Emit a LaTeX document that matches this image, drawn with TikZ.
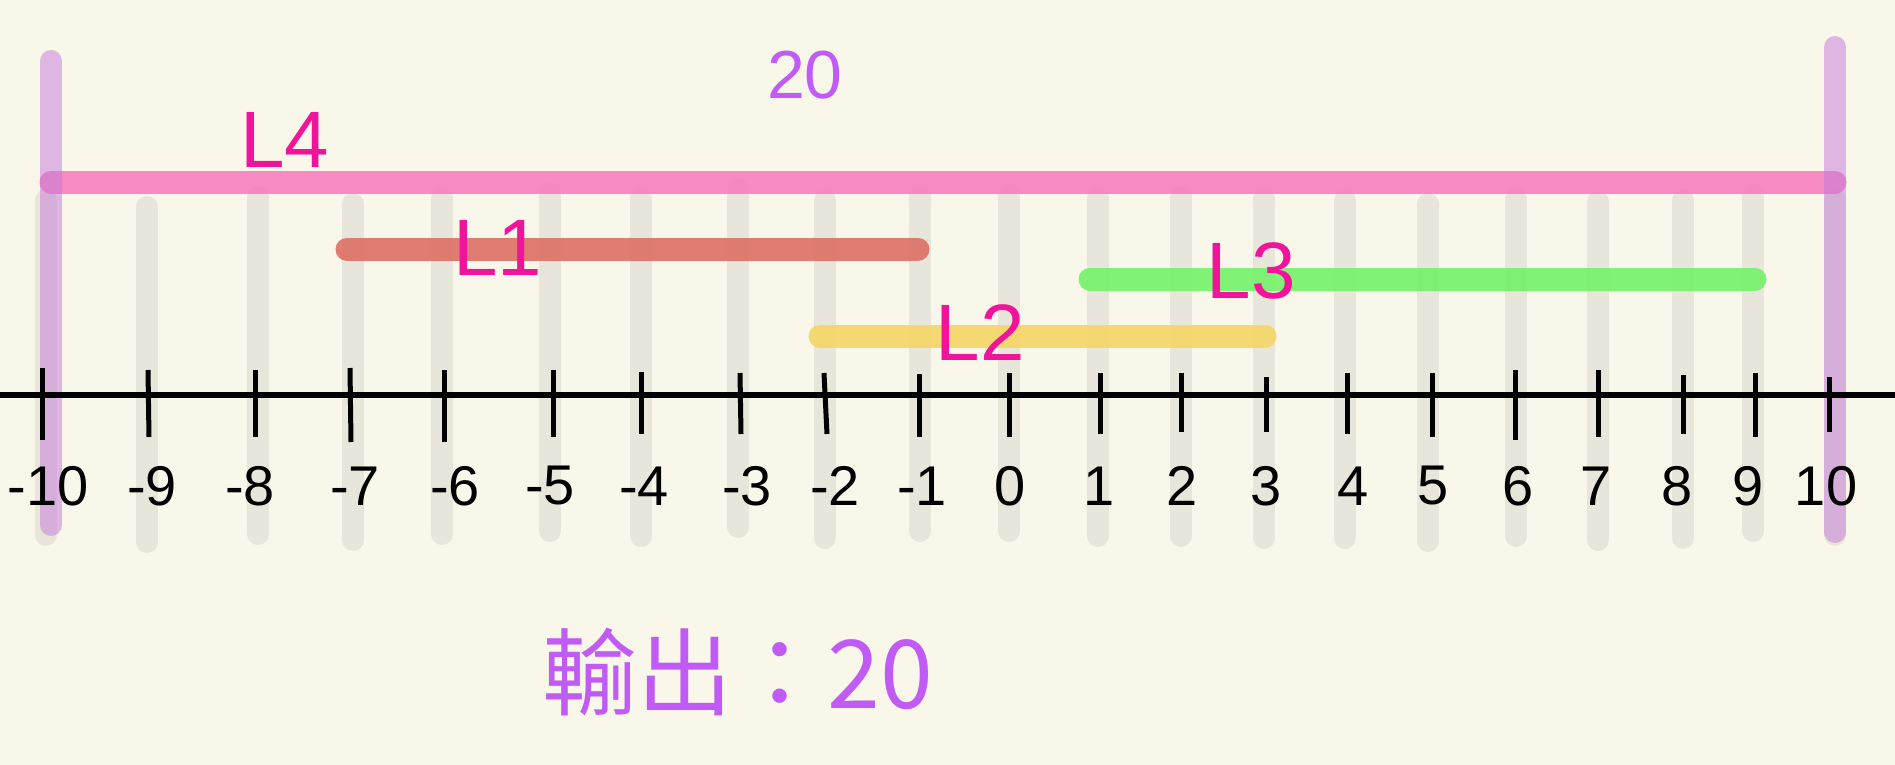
\documentclass[tikz,border=0pt]{standalone}
\usepackage{fontspec}
\setmainfont{Liberation Sans}
\newfontfamily\cjk{Noto Sans CJK TC}
\usepackage{tikz}
\definecolor{paper}{RGB}{249,246,234}
\definecolor{guidegray}{RGB}{232,230,218}
\definecolor{lfour}{RGB}{246,130,192}
\definecolor{lone}{RGB}{222,114,104}
\definecolor{ltwo}{RGB}{246,214,104}
\definecolor{lthree}{RGB}{118,242,108}
\definecolor{edgepurple}{RGB}{196,120,218}
\definecolor{penpink}{RGB}{240,20,155}
\definecolor{penpurple}{RGB}{192,92,245}
\tikzset{every picture/.style={line width=0.75pt}}
\tikzset{
  guide/.style={draw=guidegray, line width=22pt, line cap=round},
  seg/.style={line width=23pt, line cap=round, opacity=0.92},
  limit/.style={draw=edgepurple, line width=22pt, line cap=round, opacity=0.5},
  tickmark/.style={line width=5pt},
  num/.style={font=\fontsize{56}{64}\selectfont},
  segname/.style={text=penpink, font=\fontsize{80}{90}\selectfont},
  result/.style={text=penpurple}
}

\begin{document}
\begin{tikzpicture}[x=1pt,y=1pt,yscale=-1,xscale=1]
	%Shape: Background
	\fill[paper] (0,0) rectangle (1895,765);
	\useasboundingbox (0,0) rectangle (1895,765);
	
	%Straight Lines: guides
	\draw[guide] (46,200) -- (46,535);
	\draw[guide] (147,207) -- (147,542);
	\draw[guide] (258,196) -- (258,534);
	\draw[guide] (353,204) -- (353,540);
	\draw[guide] (442,198) -- (442,534);
	\draw[guide] (550,193) -- (550,531);
	\draw[guide] (641,198) -- (641,536);
	\draw[guide] (738,189) -- (738,527);
	\draw[guide] (825,200) -- (825,538);
	\draw[guide] (920,195) -- (920,531);
	\draw[guide] (1009,195) -- (1009,531);
	\draw[guide] (1098,198) -- (1098,536);
	\draw[guide] (1181,196) -- (1181,536);
	\draw[guide] (1264,198) -- (1264,538);
	\draw[guide] (1345,200) -- (1345,538);
	\draw[guide] (1428,204) -- (1428,541);
	\draw[guide] (1516,198) -- (1516,536);
	\draw[guide] (1598,202) -- (1598,540);
	\draw[guide] (1683,200) -- (1683,538);
	\draw[guide] (1753,195) -- (1753,531);
	\draw[guide] (1835,200) -- (1835,535);
	
	%Straight Lines: segments
	\draw[seg, draw=lfour] (51,182) -- (1835,182);
	\draw[seg, draw=lone] (347,249) -- (918,249);
	\draw[seg, draw=lthree] (1090,279) -- (1755,279);
	\draw[seg, draw=ltwo] (820,336) -- (1265,336);
	
	%Straight Lines: limits
	\draw[limit] (51,61) -- (51,525);
	\draw[limit] (1835,47) -- (1835,532);
	
	%Straight Lines: axis
	\draw[line width=6pt] (0,395) -- (1895,395);
	\draw[tickmark] (42,368) -- (42,440);
	\draw[tickmark] (148,370) -- (149,437);
	\draw[tickmark] (255,370) -- (255,437);
	\draw[tickmark] (350,368) -- (351,442);
	\draw[tickmark] (444,370) -- (444,442);
	\draw[tickmark] (553,370) -- (553,437);
	\draw[tickmark] (641,372) -- (641,434);
	\draw[tickmark] (740,373) -- (741,434);
	\draw[tickmark] (824,373) -- (827,434);
	\draw[tickmark] (919,374) -- (919,437);
	\draw[tickmark] (1009,373) -- (1009,437);
	\draw[tickmark] (1100,373) -- (1100,434);
	\draw[tickmark] (1181,373) -- (1181,432);
	\draw[tickmark] (1266,377) -- (1266,432);
	\draw[tickmark] (1347,373) -- (1347,434);
	\draw[tickmark] (1432,373) -- (1432,437);
	\draw[tickmark] (1515,370) -- (1515,440);
	\draw[tickmark] (1598,370) -- (1598,437);
	\draw[tickmark] (1683,375) -- (1683,434);
	\draw[tickmark] (1755,373) -- (1755,437);
	\draw[tickmark] (1829,377) -- (1829,432);
	
	% Text Node: numbers
	\node[num] (nm10) at (48,486) {-10};
	\node[num] (nm9) at (152,486) {-9};
	\node[num] (nm8) at (250,486) {-8};
	\node[num] (nm7) at (355,486) {-7};
	\node[num] (nm6) at (455,486) {-6};
	\node[num] (nm5) at (550,486) {-5};
	\node[num] (nm4) at (644,486) {-4};
	\node[num] (nm3) at (747,486) {-3};
	\node[num] (nm2) at (835,486) {-2};
	\node[num] (nm1) at (922,486) {-1};
	\node[num] (n0) at (1010,486) {0};
	\node[num] (n1) at (1099,486) {1};
	\node[num] (n2) at (1182,486) {2};
	\node[num] (n3) at (1266,486) {3};
	\node[num] (n4) at (1353,486) {4};
	\node[num] (n5) at (1433,486) {5};
	\node[num] (n6) at (1518,486) {6};
	\node[num] (n7) at (1596,486) {7};
	\node[num] (n8) at (1677,486) {8};
	\node[num] (n9) at (1748,486) {9};
	\node[num] (n10) at (1826,486) {10};
	
	% Text Node: segment names
	\node[segname] (lblFour) at (285,140) {L4};
	\node[segname] (lblOne) at (498,248) {L1};
	\node[segname] (lblThree) at (1251,271) {L3};
	\node[segname] (lblTwo) at (980,333) {L2};
	
	% Text Node: totals
	\node[result, font=\fontsize{68}{78}\selectfont] (total) at (805,75) {20};
	\node[result, font=\cjk\fontsize{95}{105}\selectfont] (output) at (738,672) {輸出：20};
\end{tikzpicture}
\end{document}
